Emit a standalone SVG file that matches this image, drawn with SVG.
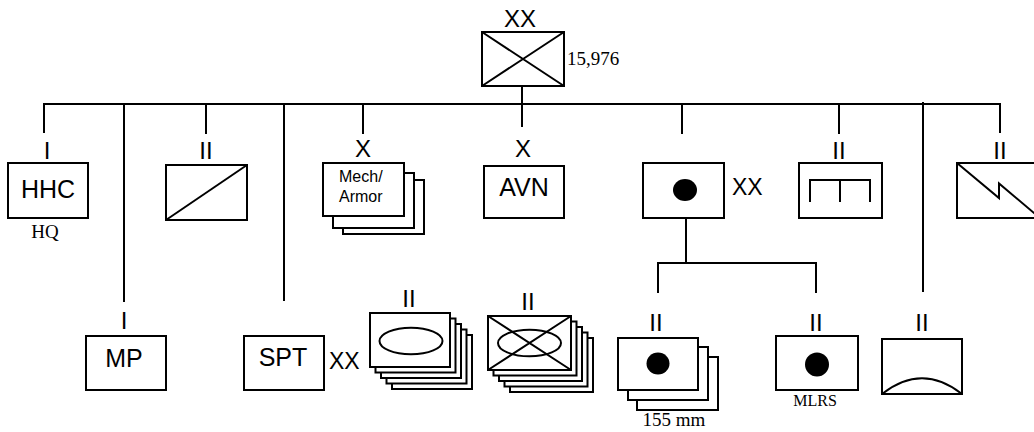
<svg xmlns="http://www.w3.org/2000/svg" width="1034" height="432" viewBox="0 0 1034 432">
<style>
.box{fill:#fff;stroke:#000;stroke-width:2}
.ln{fill:none;stroke:#000;stroke-width:2}
.dot{fill:#000;stroke:none}
.s{font-family:"Liberation Sans",Arial,sans-serif;fill:#000}
.t{font-family:"Liberation Serif","Times New Roman",serif;fill:#000}
.ech{font-family:"Liberation Sans",Arial,sans-serif;font-size:24px;text-anchor:middle;fill:#000}
.big{font-size:25px;text-anchor:middle}
</style>
<defs>
<clipPath id="faclip"><rect x="728" y="170" width="35" height="32"/></clipPath>
</defs>
<rect width="1034" height="432" fill="#fff"/>
<g id="connectors" class="ln">
<line x1="43" y1="104" x2="1001" y2="104"/>
<line x1="522" y1="86" x2="522" y2="127"/>
<line x1="44" y1="104" x2="44" y2="133"/>
<line x1="124" y1="104" x2="124" y2="302"/>
<line x1="206" y1="104" x2="206" y2="134"/>
<line x1="284" y1="104" x2="284" y2="301"/>
<line x1="363" y1="104" x2="363" y2="134"/>
<line x1="682" y1="104" x2="682" y2="134"/>
<line x1="839" y1="104" x2="839" y2="134"/>
<line x1="923" y1="102" x2="923" y2="292"/>
<line x1="1000" y1="104" x2="1000" y2="133"/>
<line x1="686" y1="218" x2="686" y2="263"/>
<polyline points="658,293 658,263 816,263 816,293"/>
</g>
<g id="division">
<text class="ech" x="520" y="27" font-size="23">XX</text>
<rect class="box" x="482" y="32" width="82" height="54"/>
<path class="ln" d="M482 32 L564 86 M564 32 L482 86"/>
<text class="t" x="567" y="65" font-size="19">15,976</text>
</g>
<g id="hhc">
<text class="ech" x="47" y="159">I</text>
<rect class="box" x="8" y="163" width="80" height="55"/>
<text class="s big" x="48" y="198">HHC</text>
<text class="t" x="45" y="238" font-size="19" text-anchor="middle">HQ</text>
</g>
<g id="cavalry">
<text class="ech" x="206" y="159">II</text>
<rect class="box" x="166" y="165" width="81" height="55"/>
<path class="ln" d="M166 220 L247 165"/>
</g>
<g id="mech-armor">
<text class="ech" x="363" y="157" font-size="22">X</text>
<rect class="box" x="343" y="180" width="81" height="54"/>
<rect class="box" x="333" y="173" width="81" height="55"/>
<rect class="box" x="323" y="163" width="81" height="53"/>
<text class="s" x="339" y="182" font-size="16">Mech/</text>
<text class="s" x="339" y="202" font-size="16">Armor</text>
</g>
<g id="avn">
<text class="ech" x="523" y="157" font-size="22">X</text>
<rect class="box" x="484" y="166" width="80" height="52"/>
<text class="s big" x="524" y="196">AVN</text>
</g>
<g id="divarty">
<rect class="box" x="643" y="163" width="81" height="55"/>
<ellipse class="dot" cx="685" cy="190" rx="12" ry="11"/>
<text class="s" x="732" y="195" font-size="23" clip-path="url(#faclip)">XX</text>
</g>
<g id="engineer">
<text class="ech" x="839" y="159">II</text>
<rect class="box" x="799" y="163" width="83" height="55"/>
<path class="ln" d="M810 202 L810 180 L870 180 L870 202 M840 180 L840 202"/>
</g>
<g id="signal">
<text class="ech" x="1000" y="159">II</text>
<rect class="box" x="957" y="163" width="83" height="55"/>
<path class="ln" d="M957 163 L999 198 L999 183.5 L1040 218"/>
</g>
<g id="mp">
<text class="ech" x="124" y="329">I</text>
<rect class="box" x="86" y="336" width="80" height="54"/>
<text class="s big" x="124" y="367">MP</text>
</g>
<g id="spt">
<rect class="box" x="244" y="336" width="80" height="54"/>
<text class="s big" x="283" y="366">SPT</text>
<text class="s" x="329" y="369" font-size="23">XX</text>
</g>
<g id="infantry">
<text class="ech" x="409" y="307">II</text>
<rect class="box" x="392" y="335" width="80" height="54"/>
<rect class="box" x="386.5" y="329.5" width="80" height="54"/>
<rect class="box" x="381" y="324" width="80" height="54"/>
<rect class="box" x="375.5" y="318.5" width="80" height="54"/>
<rect class="box" x="370" y="313" width="80" height="54"/>
<ellipse class="ln" cx="411" cy="341" rx="31.5" ry="13.3"/>
</g>
<g id="armor-bn">
<text class="ech" x="528" y="310">II</text>
<rect class="box" x="510" y="338" width="83" height="54"/>
<rect class="box" x="504.5" y="332.5" width="83" height="54"/>
<rect class="box" x="499" y="327" width="83" height="54"/>
<rect class="box" x="493.5" y="321.5" width="83" height="54"/>
<rect class="box" x="488" y="316" width="83" height="54"/>
<ellipse class="ln" cx="529.5" cy="343" rx="31.5" ry="13.3"/>
<path class="ln" d="M488 316 L571 370 M571 316 L488 370"/>
</g>
<g id="fa-155">
<text class="ech" x="656" y="331">II</text>
<rect class="box" x="637" y="357" width="81" height="53"/>
<rect class="box" x="628" y="347" width="80" height="53"/>
<rect class="box" x="618" y="338" width="80" height="52"/>
<ellipse class="dot" cx="658" cy="363.5" rx="11.5" ry="11"/>
<text class="t" x="674" y="426" font-size="19" text-anchor="middle">155 mm</text>
</g>
<g id="mlrs">
<text class="ech" x="816" y="331">II</text>
<rect class="box" x="776" y="336" width="82" height="54"/>
<ellipse class="dot" cx="817" cy="364.5" rx="12" ry="12"/>
<text class="t" x="815" y="406" font-size="16" text-anchor="middle">MLRS</text>
</g>
<g id="air-defense">
<text class="ech" x="922" y="331">II</text>
<rect class="box" x="882" y="339" width="80" height="55"/>
<path class="ln" d="M882 394 Q922 362.5 962 394"/>
</g>
</svg>
